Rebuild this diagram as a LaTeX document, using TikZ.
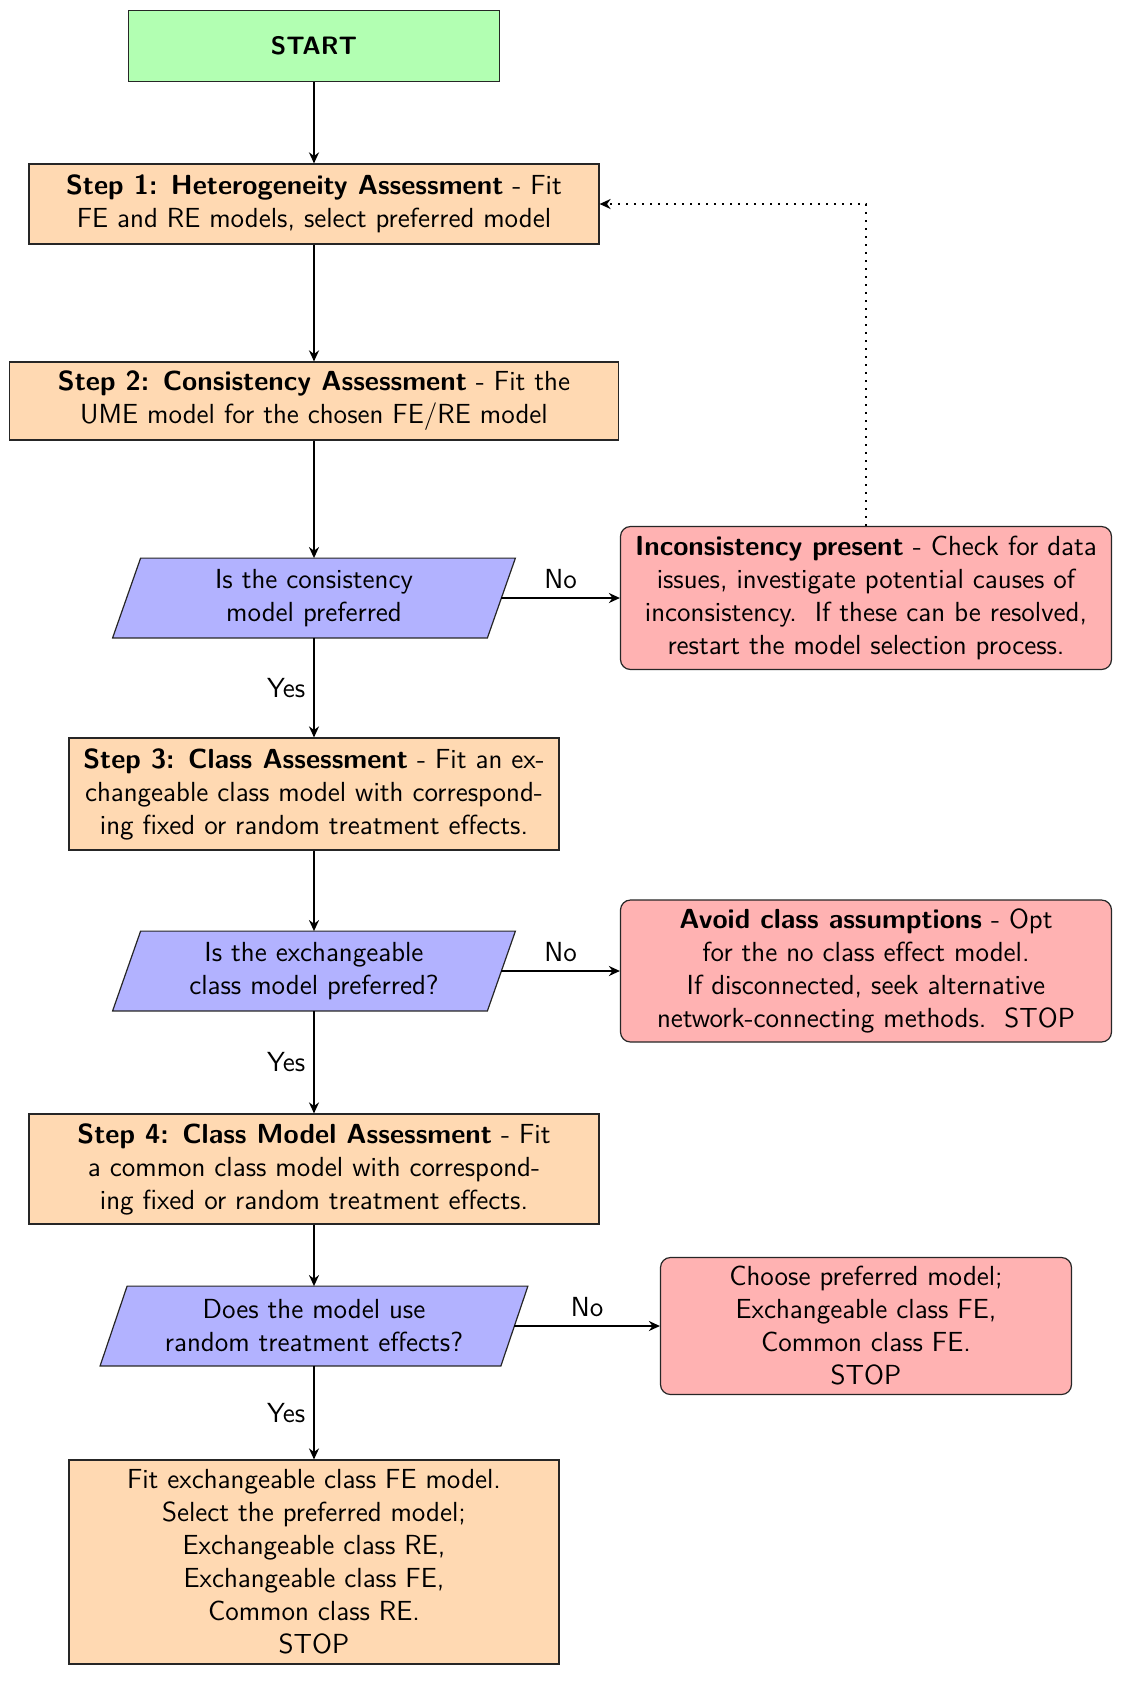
\documentclass[tikz,border=0pt]{standalone}
\usetikzlibrary{arrows.meta,backgrounds}
\begin{document}
\begin{tikzpicture}[x=0.5pt,y=-0.5pt]
\tikzset{
  txt/.style={align=center, inner sep=2pt, font=\sffamily\fontsize{13.8}{16.5}\selectfont},
  base/.style={txt, draw=black!85, line width=0.6pt},
  startbox/.style={base, fill=green!30, font=\sffamily\bfseries\fontsize{12.6}{16.5}\selectfont},
  procbox/.style={base, fill=orange!30},
  redbox/.style={base, fill=red!30, rounded corners=5pt},
  decbox/.style={txt, minimum height=39.5pt},
  decshape/.style={draw=black!85, line width=0.6pt, fill=blue!30},
  arr/.style={-{Stealth[length=5.5pt,width=5pt]}, line width=0.9pt},
  dots/.style={-{Stealth[length=5.5pt,width=5pt]}, line width=1pt, dash pattern=on 1pt off 3pt},
  lbl/.style={font=\sffamily\fontsize{13.8}{16.5}\selectfont, inner sep=4pt},
}
\useasboundingbox (0,0) rectangle (1128,1683);

\node[startbox, minimum width=185.5pt, minimum height=35.5pt] (start) at (314,46) {START};
\node[procbox, minimum width=285pt, minimum height=40pt] (s1) at (314,204)
  {\textbf{Step 1: Heterogeneity Assessment} - Fit\\FE and RE models, select preferred model};
\node[procbox, minimum width=304.5pt, minimum height=39pt] (s2) at (314,401)
  {\textbf{Step 2: Consistency Assessment} - Fit the\\UME model for the chosen FE/RE model};
\node[decbox, minimum width=187pt] (d1) at (314,598) {Is the consistency\\model preferred};
\node[redbox, minimum width=245.5pt, minimum height=71.5pt] (inc) at (866,598)
  {\textbf{Inconsistency present} - Check for data\\issues, investigate potential causes of\\inconsistency.\ \ If these can be resolved,\\restart the model selection process.};
\node[procbox, minimum width=245pt, minimum height=56pt] (s3) at (314,794)
  {\textbf{Step 3: Class Assessment} - Fit an ex-\\changeable class model with correspond-\\ing fixed or random treatment effects.};
\node[decbox, minimum width=187pt] (d2) at (314,971) {Is the exchangeable\\class model preferred?};
\node[redbox, minimum width=245.5pt, minimum height=71pt] (avoid) at (866,971)
  {\textbf{Avoid class assumptions} - Opt\\for the no class effect model.\\If disconnected, seek alternative\\network-connecting methods.\ \ STOP};
\node[procbox, minimum width=285pt, minimum height=55pt] (s4) at (314,1169)
  {\textbf{Step 4: Class Model Assessment} - Fit\\a common class model with correspond-\\ing fixed or random treatment effects.};
\node[decbox, minimum width=200pt] (d3) at (314,1326) {Does the model use\\random treatment effects?};
\node[redbox, minimum width=205.5pt, minimum height=68.5pt] (choose) at (866,1326)
  {Choose preferred model;\\Exchangeable class FE,\\Common class FE.\\STOP};
\node[procbox, minimum width=245pt, minimum height=102pt] (fin) at (314,1562)
  {Fit exchangeable class FE model.\\Select the preferred model;\\Exchangeable class RE,\\Exchangeable class FE,\\Common class RE.\\STOP};

\begin{scope}[on background layer]
  \foreach \n/\s in {d1/7pt,d2/7pt,d3/6.75pt}{
    \draw[decshape] ([xshift=\s]\n.north west) -- ([xshift=\s]\n.north east)
      -- ([xshift=-\s]\n.south east) -- ([xshift=-\s]\n.south west) -- cycle;
  }
\end{scope}

\draw[arr] (start) -- (s1);
\draw[arr] (s1) -- (s2);
\draw[arr] (s2) -- (d1);
\draw[arr] (d1) -- node[lbl, left, midway] {Yes} (s3);
\draw[arr] (d1.east) -- node[lbl, above, midway] {No} (inc.west);
\draw[arr] (s3) -- (d2);
\draw[arr] (d2) -- node[lbl, left, midway] {Yes} (s4);
\draw[arr] (d2.east) -- node[lbl, above, midway] {No} (avoid.west);
\draw[arr] (s4) -- (d3);
\draw[arr] (d3) -- node[lbl, left, midway] {Yes} (fin);
\draw[arr] (d3.east) -- node[lbl, above, midway] {No} (choose.west);
\draw[dots] (inc.north) |- (s1.east);
\end{tikzpicture}
\end{document}
